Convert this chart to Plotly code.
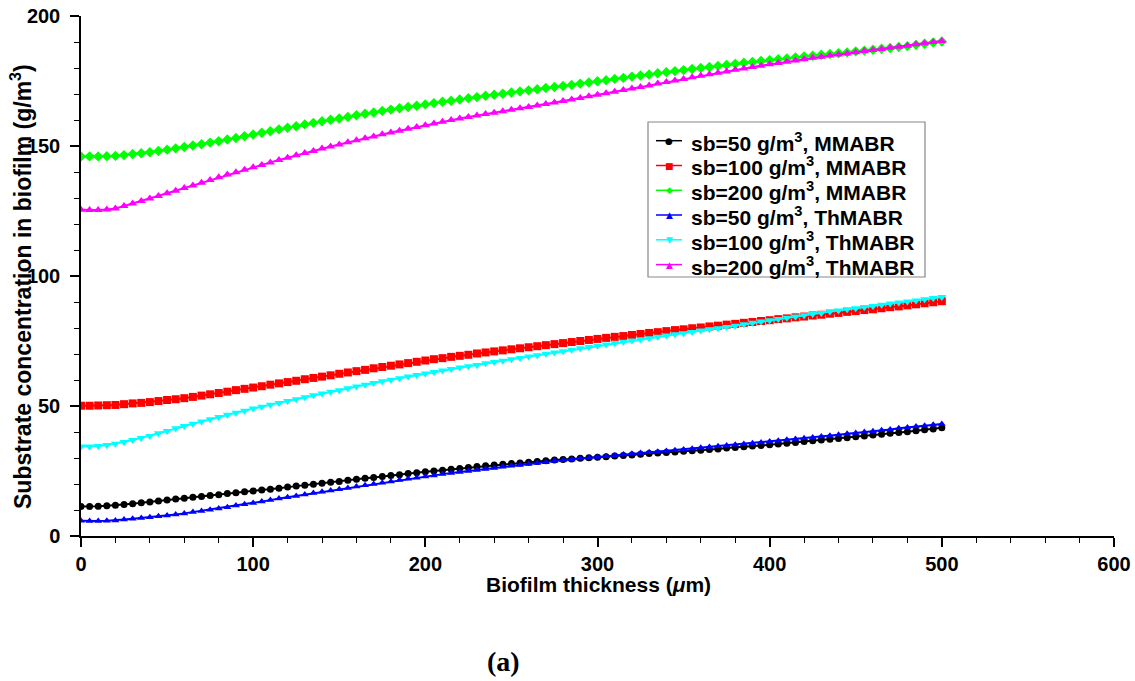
import plotly.graph_objects as go

thickness = list(range(0, 505, 5))

mm_50 = [11.3, 11.3, 11.4, 11.6, 11.8, 12.1, 12.4, 12.8, 13.1, 13.5, 13.8, 14.2, 14.5, 14.9, 15.2, 15.6,
         15.9, 16.3, 16.6, 17.0, 17.3, 17.7, 18.0, 18.4, 18.8, 19.2, 19.5, 19.9, 20.3, 20.7, 21.0, 21.4,
         21.8, 22.2, 22.5, 22.9, 23.3, 23.6, 24.0, 24.3, 24.7, 25.0, 25.3, 25.7, 26.0, 26.3, 26.7, 27.0,
         27.3, 27.6, 27.9, 28.1, 28.4, 28.7, 28.9, 29.2, 29.4, 29.6, 29.9, 30.1, 30.3, 30.5, 30.8, 31.0,
         31.2, 31.4, 31.7, 31.9, 32.1, 32.3, 32.6, 32.8, 33.0, 33.3, 33.5, 33.8, 34.0, 34.3, 34.6, 34.8,
         35.1, 35.4, 35.7, 36.0, 36.3, 36.6, 36.9, 37.2, 37.5, 37.8, 38.2, 38.5, 38.8, 39.1, 39.5, 39.8,
         40.1, 40.5, 40.9, 41.2, 41.6]

mm_100 = [50.1, 50.1, 50.2, 50.3, 50.4, 50.7, 51.0, 51.2, 51.5, 51.9, 52.3, 52.6, 53.0, 53.5, 54.0, 54.5,
          55.0, 55.5, 56.1, 56.6, 57.1, 57.6, 58.2, 58.7, 59.2, 59.7, 60.3, 60.8, 61.3, 61.8, 62.4, 62.9,
          63.4, 63.9, 64.5, 65.0, 65.5, 66.0, 66.5, 67.0, 67.5, 68.0, 68.4, 68.9, 69.3, 69.7, 70.2, 70.6,
          71.0, 71.4, 71.8, 72.2, 72.6, 73.0, 73.4, 73.8, 74.2, 74.6, 75.0, 75.4, 75.8, 76.2, 76.6, 76.9,
          77.3, 77.7, 78.1, 78.4, 78.8, 79.2, 79.5, 79.9, 80.2, 80.6, 80.9, 81.3, 81.6, 82.0, 82.3, 82.7,
          83.0, 83.4, 83.7, 84.1, 84.4, 84.8, 85.1, 85.5, 85.8, 86.2, 86.5, 86.9, 87.2, 87.6, 88.0, 88.3,
          88.7, 89.1, 89.5, 89.9, 90.3]

mm_200 = [146.0, 146.0, 146.0, 146.1, 146.2, 146.5, 146.9, 147.2, 147.6, 148.1, 148.6, 149.1, 149.6, 150.2, 150.7, 151.3,
          151.8, 152.5, 153.1, 153.8, 154.4, 155.1, 155.7, 156.4, 157.0, 157.6, 158.3, 158.9, 159.5, 160.1, 160.6, 161.2,
          161.8, 162.4, 162.9, 163.5, 164.0, 164.5, 165.0, 165.5, 166.0, 166.5, 167.0, 167.4, 167.9, 168.4, 168.8, 169.3,
          169.7, 170.1, 170.6, 171.0, 171.4, 171.8, 172.3, 172.7, 173.1, 173.5, 174.0, 174.4, 174.9, 175.3, 175.8, 176.2,
          176.7, 177.1, 177.5, 178.0, 178.4, 178.8, 179.2, 179.6, 180.0, 180.4, 180.8, 181.2, 181.6, 182.0, 182.3, 182.7,
          183.0, 183.4, 183.7, 184.1, 184.4, 184.7, 185.1, 185.4, 185.7, 186.0, 186.4, 186.7, 187.0, 187.4, 187.7, 188.1,
          188.4, 188.9, 189.3, 189.8, 190.2]

th_50 = [5.9, 5.8, 5.8, 5.9, 6.0, 6.3, 6.6, 6.9, 7.2, 7.6, 7.9, 8.3, 8.7, 9.2, 9.6, 10.1,
         10.6, 11.1, 11.7, 12.2, 12.7, 13.3, 13.8, 14.4, 14.9, 15.4, 16.0, 16.5, 17.0, 17.5, 18.0, 18.5,
         19.0, 19.5, 20.0, 20.5, 21.0, 21.5, 22.0, 22.4, 22.9, 23.3, 23.8, 24.2, 24.6, 25.0, 25.4, 25.8,
         26.2, 26.6, 27.0, 27.3, 27.7, 28.1, 28.4, 28.8, 29.1, 29.4, 29.8, 30.1, 30.4, 30.7, 31.0, 31.3,
         31.6, 31.9, 32.2, 32.4, 32.7, 33.0, 33.3, 33.6, 33.9, 34.2, 34.5, 34.8, 35.1, 35.4, 35.7, 36.0,
         36.3, 36.6, 37.0, 37.3, 37.6, 37.9, 38.3, 38.6, 38.9, 39.3, 39.6, 40.0, 40.3, 40.7, 41.0, 41.4,
         41.7, 42.1, 42.4, 42.8, 43.1]

th_100 = [34.4, 34.4, 34.6, 35.0, 35.5, 36.2, 36.9, 37.7, 38.5, 39.5, 40.4, 41.4, 42.3, 43.2, 44.0, 44.9,
          45.8, 46.6, 47.4, 48.2, 49.0, 49.7, 50.5, 51.2, 51.9, 52.6, 53.4, 54.1, 54.8, 55.5, 56.1, 56.8,
          57.5, 58.2, 58.8, 59.5, 60.1, 60.7, 61.3, 61.9, 62.5, 63.1, 63.7, 64.2, 64.8, 65.3, 65.8, 66.4,
          66.9, 67.4, 68.0, 68.5, 69.0, 69.5, 70.1, 70.6, 71.1, 71.6, 72.2, 72.7, 73.2, 73.7, 74.2, 74.7,
          75.2, 75.7, 76.1, 76.6, 77.1, 77.6, 78.0, 78.5, 79.0, 79.5, 79.9, 80.4, 80.9, 81.4, 82.0, 82.5,
          83.0, 83.5, 83.9, 84.4, 84.9, 85.4, 85.8, 86.3, 86.7, 87.2, 87.6, 88.1, 88.5, 88.9, 89.4, 89.8,
          90.2, 90.6, 91.1, 91.5, 91.9]

th_200 = [125.5, 125.4, 125.4, 125.6, 126.0, 126.9, 127.9, 128.8, 129.8, 130.8, 131.8, 132.8, 133.8, 134.8, 135.9, 136.9,
          138.0, 139.0, 139.9, 140.9, 141.8, 142.7, 143.7, 144.6, 145.5, 146.4, 147.3, 148.1, 149.0, 149.8, 150.6, 151.4,
          152.2, 153.0, 153.7, 154.5, 155.2, 155.9, 156.6, 157.3, 158.0, 158.7, 159.3, 160.0, 160.6, 161.2, 161.7, 162.3,
          162.8, 163.4, 163.9, 164.5, 165.0, 165.6, 166.2, 166.7, 167.3, 167.9, 168.5, 169.1, 169.7, 170.3, 170.9, 171.5,
          172.1, 172.7, 173.3, 174.0, 174.6, 175.2, 175.8, 176.4, 177.0, 177.6, 178.2, 178.7, 179.3, 179.8, 180.4, 180.9,
          181.4, 181.9, 182.4, 182.9, 183.4, 183.9, 184.3, 184.8, 185.2, 185.6, 186.1, 186.5, 186.9, 187.3, 187.8, 188.2,
          188.6, 189.1, 189.5, 190.0, 190.4]

series_names = [
    "sb=50 g/m<sup>3</sup>, MMABR",
    "sb=100 g/m<sup>3</sup>, MMABR",
    "sb=200 g/m<sup>3</sup>, MMABR",
    "sb=50 g/m<sup>3</sup>, ThMABR",
    "sb=100 g/m<sup>3</sup>, ThMABR",
    "sb=200 g/m<sup>3</sup>, ThMABR",
]
series_values = [mm_50, mm_100, mm_200, th_50, th_100, th_200]
colors = ["#000000", "#ff0000", "#00ff00", "#0000ff", "#00ffff", "#ff00ff"]
symbols = ["circle", "square", "diamond", "triangle-up", "triangle-down", "triangle-up"]
legend_glyphs = ["●", "■", "◆", "▲", "▼", "▲"]
sizes = [7, 8, 8, 7, 8, 8]

SANS = "Arial, Liberation Sans, sans-serif"

fig = go.Figure()
for name, vals, c, s, sz in zip(series_names, series_values, colors, symbols, sizes):
    fig.add_trace(go.Scatter(
        x=thickness, y=vals, name=name, mode="lines+markers",
        line=dict(color=c, width=2),
        marker=dict(symbol=s, size=sz, color=c, line=dict(width=0)),
        showlegend=False,
    ))

tickfont = dict(family=SANS, size=20, color="black", weight="bold")

fig.update_layout(
    width=1135, height=681, autosize=False,
    margin=dict(l=81, r=21, t=16, b=145, pad=0),
    paper_bgcolor="white", plot_bgcolor="white",
    font=dict(family=SANS, color="black"),
    xaxis=dict(
        range=[0, 600], tick0=0, dtick=100, ticks="outside", ticklen=9, tickwidth=1.5,
        tickcolor="black", showline=True, linecolor="black", linewidth=1.5,
        showgrid=False, zeroline=False, tickfont=tickfont, automargin=False,
        minor=dict(dtick=20, ticks="outside", ticklen=5, tickwidth=1, tickcolor="black", showgrid=False),
    ),
    yaxis=dict(
        range=[0, 200], tick0=0, dtick=50, ticks="outside", ticklen=9, tickwidth=1.5,
        tickcolor="black", showline=True, linecolor="black", linewidth=1.5,
        showgrid=False, zeroline=False, tickfont=tickfont, automargin=False,
        ticklabelstandoff=6,
        minor=dict(dtick=10, ticks="outside", ticklen=5, tickwidth=1, tickcolor="black", showgrid=False),
    ),
    showlegend=False,
)

def px_x(px):
    return (px - 81) / 1033.0

def px_y(py):
    return (536 - py) / 520.0

# Legend box
fig.add_shape(type="rect", xref="paper", yref="paper",
              x0=px_x(648), x1=px_x(925), y0=px_y(277), y1=px_y(122),
              line=dict(color="#888888", width=1.2), fillcolor="white", layer="above")

row_y = [140.7, 165.5, 190.3, 215.0, 239.8, 264.6]
for name, c, g, ry in zip(series_names, colors, legend_glyphs, row_y):
    fig.add_shape(type="line", xref="paper", yref="paper",
                  x0=px_x(656), x1=px_x(682), y0=px_y(ry), y1=px_y(ry),
                  line=dict(color=c, width=1.5), layer="above")
    fig.add_annotation(text=g, xref="paper", yref="paper", x=px_x(669), y=px_y(ry),
                       showarrow=False, xanchor="center", yanchor="middle",
                       font=dict(family="DejaVu Sans, sans-serif", size=9, color=c))
    fig.add_annotation(text=name, xref="paper", yref="paper", x=px_x(689), y=px_y(ry + 1),
                       showarrow=False, xanchor="left", yanchor="middle",
                       font=dict(family=SANS, size=21, color="black", weight="bold"))

fig.add_annotation(
    text="Substrate concentration in biofilm (g/m<sup>3</sup>)",
    xref="paper", yref="paper", x=px_x(21), y=px_y(287), textangle=-90,
    showarrow=False, xanchor="center", yanchor="middle",
    font=dict(family=SANS, size=23, color="black", weight="bold"),
)
fig.add_annotation(
    text="Biofilm thickness (<i>μ</i>m)",
    xref="paper", yref="paper", x=px_x(598), y=px_y(584),
    showarrow=False, xanchor="center", yanchor="middle",
    font=dict(family=SANS, size=21, color="black", weight="bold"),
)
fig.add_annotation(
    text="(a)",
    xref="paper", yref="paper", x=px_x(503), y=px_y(661),
    showarrow=False, xanchor="center", yanchor="middle",
    font=dict(family="Liberation Serif, Times New Roman, serif", size=28, color="black", weight="bold"),
)

fig.write_html(
    "out.html",
    config={"displayModeBar": False},
    post_script="document.body.style.margin='0';document.body.style.padding='0';",
)
